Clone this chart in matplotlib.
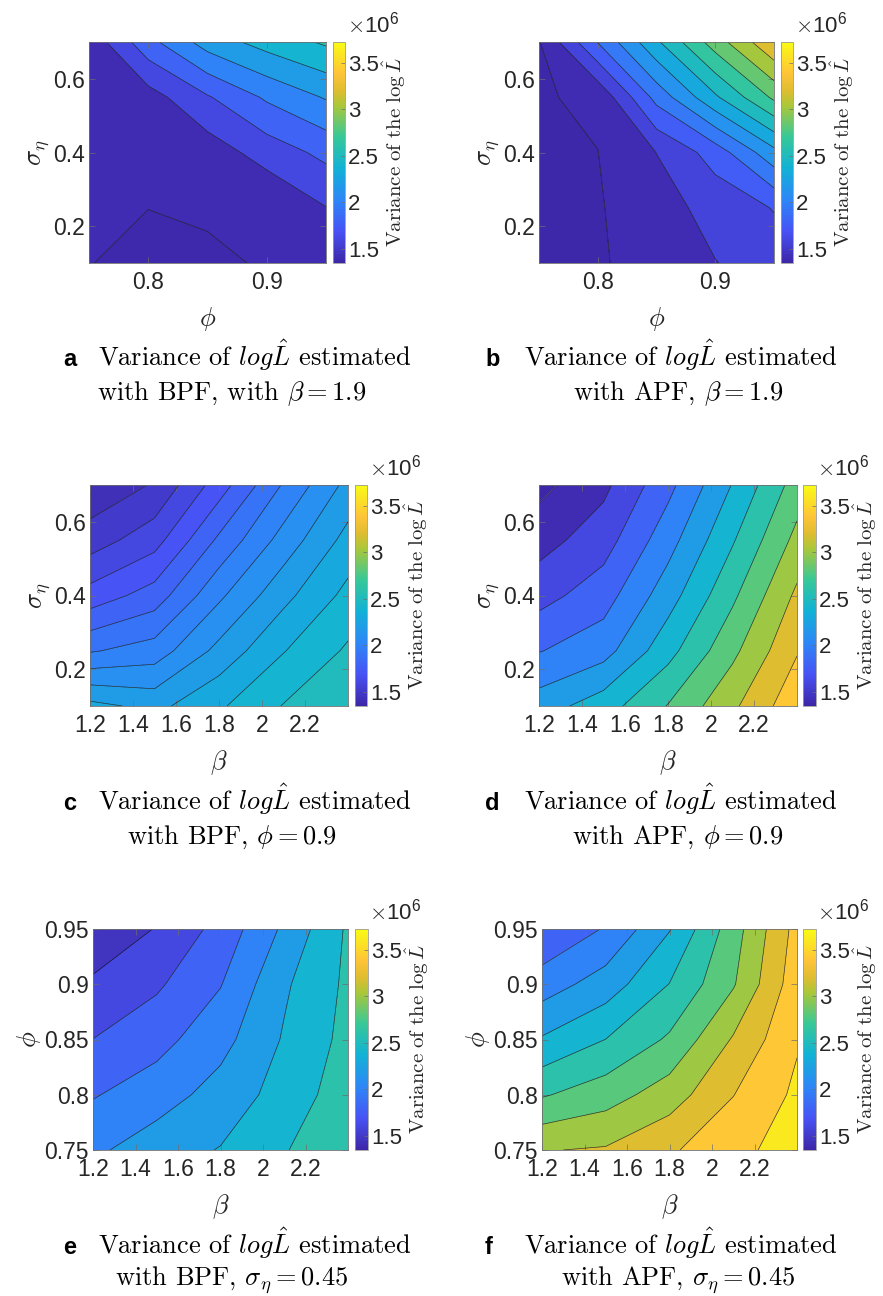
import numpy as np
import matplotlib
matplotlib.use("Agg")
import matplotlib.pyplot as plt
from matplotlib.colors import LinearSegmentedColormap, Normalize
from matplotlib.cm import ScalarMappable

plt.rcParams['font.family'] = ['Liberation Sans', 'DejaVu Sans']
plt.rcParams['mathtext.fontset'] = 'cm'

W, H, DPI = 883, 1296, 100

# ---------------- data ----------------
phi_grid = [0.75, 0.80, 0.85, 0.90, 0.95]
sigma_grid = [0.10, 0.25, 0.40, 0.55, 0.70]
beta_grid = [1.2, 1.5, 1.8, 2.1, 2.4]

# Variance of log L-hat in units of 1e6; rows follow the y grid (ascending), columns the x grid
var_bpf_beta19 = [
    [1.403, 1.370, 1.380, 1.410, 1.450],
    [1.420, 1.401, 1.415, 1.412, 1.595],
    [1.430, 1.480, 1.490, 1.686, 1.853],
    [1.450, 1.513, 1.780, 2.030, 2.217],
    [1.460, 1.935, 2.290, 2.480, 2.630]]
var_apf_beta19 = [
    [1.360, 1.380, 1.475, 1.575, 1.660],
    [1.370, 1.385, 1.509, 1.640, 1.770],
    [1.375, 1.398, 1.582, 1.840, 2.245],
    [1.385, 1.430, 2.000, 2.450, 2.876],
    [1.390, 1.947, 2.450, 2.930, 3.360]]
var_bpf_phi09 = [
    [2.330, 2.270, 2.385, 2.505, 2.580],
    [1.990, 2.045, 2.230, 2.395, 2.515],
    [1.740, 1.845, 2.080, 2.270, 2.430],
    [1.550, 1.660, 1.920, 2.140, 2.335],
    [1.420, 1.510, 1.750, 2.010, 2.230]]
var_apf_phi09 = [
    [2.300, 2.510, 2.810, 3.160, 3.540],
    [1.990, 2.120, 2.530, 2.950, 3.385],
    [1.725, 1.910, 2.310, 2.760, 3.240],
    [1.520, 1.710, 2.120, 2.580, 3.060],
    [1.340, 1.550, 1.940, 2.410, 2.890]]
var_bpf_sig045 = [
    [2.160, 2.310, 2.410, 2.590, 2.720],
    [1.985, 2.105, 2.280, 2.480, 2.710],
    [1.802, 1.930, 2.130, 2.420, 2.660],
    [1.630, 1.770, 1.990, 2.370, 2.640],
    [1.460, 1.610, 1.868, 2.237, 2.630]]
var_apf_sig045 = [
    [3.190, 3.220, 3.373, 3.536, 3.700],
    [2.780, 2.910, 3.100, 3.395, 3.640],
    [2.420, 2.602, 2.830, 3.220, 3.580],
    [2.100, 2.293, 2.605, 2.980, 3.520],
    [1.810, 2.018, 2.389, 2.908, 3.470]]

levels_a = [1.4, 1.6, 1.8, 2.0, 2.2, 2.4, 2.6]
levels_b = [1.40, 1.58, 1.76, 1.94, 2.12, 2.30, 2.48, 2.66, 2.84, 3.02, 3.20]
levels_c = [1.5, 1.6, 1.7, 1.8, 1.9, 2.0, 2.1, 2.2, 2.3, 2.4, 2.5]
levels_d = [1.4, 1.6, 1.8, 2.0, 2.2, 2.4, 2.6, 2.8, 3.0, 3.2, 3.4]
levels_e = [1.6, 1.8, 2.0, 2.2, 2.4, 2.6]
levels_f = [2.0, 2.2, 2.4, 2.6, 2.8, 3.0, 3.2, 3.4, 3.6]

cbar_min, cbar_max = 1.35, 3.72
cbar_ticks = [1.5, 2.0, 2.5, 3.0, 3.5]
cbar_ticklabels = ['1.5', '2', '2.5', '3', '3.5']

ticks_phi = [0.8, 0.9]
ticklabels_phi = ['0.8', '0.9']
ticks_sigma = [0.2, 0.4, 0.6]
ticklabels_sigma = ['0.2', '0.4', '0.6']
ticks_beta = [1.2, 1.4, 1.6, 1.8, 2.0, 2.2]
ticklabels_beta = ['1.2', '1.4', '1.6', '1.8', '2', '2.2']
ticks_phi_y = [0.75, 0.8, 0.85, 0.9, 0.95]
ticklabels_phi_y = ['0.75', '0.8', '0.85', '0.9', '0.95']

captions = [
    ('a', r'with BPF, with $\beta=1.9$'),
    ('b', r'with APF, $\beta=1.9$'),
    ('c', r'with BPF, $\phi=0.9$'),
    ('d', r'with APF, $\phi=0.9$'),
    ('e', r'with BPF, $\sigma_\eta=0.45$'),
    ('f', r'with APF, $\sigma_\eta=0.45$'),
]
caption_line1 = r'Variance of $log\hat{L}$ estimated'
cbar_label = r'$\mathrm{Variance\ of\ the\ }\log\hat{L}$'

# parula-like colormap
parula_pos = [0.0, 1 / 7, 2 / 7, 3 / 7, 4 / 7, 5 / 7, 0.78, 6 / 7, 1.0]
parula_rgb = [
    (0.2422, 0.1504, 0.6603), (0.2810, 0.3228, 0.9579), (0.1786, 0.5289, 0.9682),
    (0.0689, 0.6948, 0.8394), (0.2161, 0.7843, 0.5923), (0.6720, 0.7793, 0.2227),
    (0.8700, 0.7400, 0.1900), (0.9970, 0.7659, 0.2199), (0.9769, 0.9839, 0.0805)]
parula = LinearSegmentedColormap.from_list('parula', list(zip(parula_pos, parula_rgb)), N=256)
norm = Normalize(cbar_min, cbar_max)

# ---------------- layout (pixels) ----------------
fig = plt.figure(figsize=(W / DPI, H / DPI), dpi=DPI)


def px_axes(l, t, r, b):
    return fig.add_axes([l / W, 1 - b / H, (r - l) / W, (b - t) / H])


panels = [
    dict(x=phi_grid, y=sigma_grid, z=var_bpf_beta19, lv=levels_a, ax=(89, 42, 326, 263), cb=(333, 345),
         xt=(ticks_phi, ticklabels_phi), yt=(ticks_sigma, ticklabels_sigma), xl=r'$\phi$', yl=r'$\sigma_\eta$'),
    dict(x=phi_grid, y=sigma_grid, z=var_apf_beta19, lv=levels_b, ax=(539, 42, 774, 263), cb=(781, 793),
         xt=(ticks_phi, ticklabels_phi), yt=(ticks_sigma, ticklabels_sigma), xl=r'$\phi$', yl=r'$\sigma_\eta$'),
    dict(x=beta_grid, y=sigma_grid, z=var_bpf_phi09, lv=levels_c, ax=(90, 485, 348, 706), cb=(355, 367),
         xt=(ticks_beta, ticklabels_beta), yt=(ticks_sigma, ticklabels_sigma), xl=r'$\beta$', yl=r'$\sigma_\eta$'),
    dict(x=beta_grid, y=sigma_grid, z=var_apf_phi09, lv=levels_d, ax=(539, 485, 797, 706), cb=(803, 816),
         xt=(ticks_beta, ticklabels_beta), yt=(ticks_sigma, ticklabels_sigma), xl=r'$\beta$', yl=r'$\sigma_\eta$'),
    dict(x=beta_grid, y=phi_grid, z=var_bpf_sig045, lv=levels_e, ax=(93, 929, 348, 1150), cb=(355, 368),
         xt=(ticks_beta, ticklabels_beta), yt=(ticks_phi_y, ticklabels_phi_y), xl=r'$\beta$', yl=r'$\phi$'),
    dict(x=beta_grid, y=phi_grid, z=var_apf_sig045, lv=levels_f, ax=(542, 929, 797, 1150), cb=(803, 816),
         xt=(ticks_beta, ticklabels_beta), yt=(ticks_phi_y, ticklabels_phi_y), xl=r'$\beta$', yl=r'$\phi$'),
]

frame_col = '#6e6e6e'
text_col = '#262626'
sm = ScalarMappable(norm=norm, cmap=parula)

for p in panels:
    l, t, r, b = p['ax']
    ax = px_axes(l, t, r, b)
    X, Y = np.meshgrid(p['x'], p['y'])
    Z = np.array(p['z'])
    lv = p['lv']
    zmin, zmax = Z.min(), Z.max()
    fill_levels = [min(zmin, lv[0]) - 1e-3] + list(lv) + [max(zmax, lv[-1]) + 1e-3]
    fill_cols = [parula(norm(zmin))] + [parula(norm(v)) for v in lv]
    ax.contourf(X, Y, Z, levels=fill_levels, colors=fill_cols, antialiased=True)
    ax.contour(X, Y, Z, levels=lv, colors='k', linewidths=0.45, alpha=0.85)
    ax.set_xlim(p['x'][0], p['x'][-1])
    ax.set_ylim(p['y'][0], p['y'][-1])
    ax.set_xticks(p['xt'][0])
    ax.set_xticklabels(p['xt'][1])
    ax.set_yticks(p['yt'][0])
    ax.set_yticklabels(p['yt'][1])
    ax.tick_params(direction='in', length=4, width=0.5, top=True, right=True,
                   labelsize=16.5, color=frame_col, labelcolor=text_col)
    ax.tick_params(axis='x', pad=6)
    ax.tick_params(axis='y', pad=3)
    for s in ax.spines.values():
        s.set_color(frame_col)
        s.set_linewidth(0.6)
    ax.set_xlabel(p['xl'], fontsize=19, color=text_col, labelpad=8)
    ax.set_ylabel(p['yl'], fontsize=19, color=text_col, labelpad=1)

    cl, cr = p['cb']
    cax = px_axes(cl, t, cr, b)
    cb = fig.colorbar(sm, cax=cax, ticks=cbar_ticks)
    cb.ax.set_yticklabels(cbar_ticklabels)
    cb.ax.tick_params(direction='in', length=3, width=0.5, labelsize=16, pad=2,
                      color=frame_col, labelcolor=text_col)
    cb.outline.set_edgecolor('#9a9a9a')
    cb.outline.set_linewidth(0.6)
    cb.set_label(cbar_label, fontsize=15, color=text_col, labelpad=1)
    fig.text((cl + 14) / W, 1 - (t - 17) / H, r'$\times\mathregular{10^{6}}$', fontsize=16,
             color=text_col, ha='left', va='center')

# captions
rows_base = [(366, 400), (810, 844), (1254, 1285)]
for i, (lab, line2) in enumerate(captions):
    row, col = divmod(i, 2)
    b1, b2 = rows_base[row]
    if col == 0:
        xl, xt, xc = 63, 98, 232
    else:
        xl, xt, xc = 485, 524, 678
    fig.text(xl / W, 1 - b1 / H, lab, fontsize=17, fontweight='bold', color='black',
             ha='left', va='baseline')
    fig.text(xt / W, 1 - b1 / H, caption_line1, fontsize=19, color='black',
             family='cmr10', ha='left', va='baseline')
    fig.text(xc / W, 1 - b2 / H, line2, fontsize=19, color='black',
             family='cmr10', ha='center', va='baseline')

fig.savefig('out.png', dpi=DPI)
